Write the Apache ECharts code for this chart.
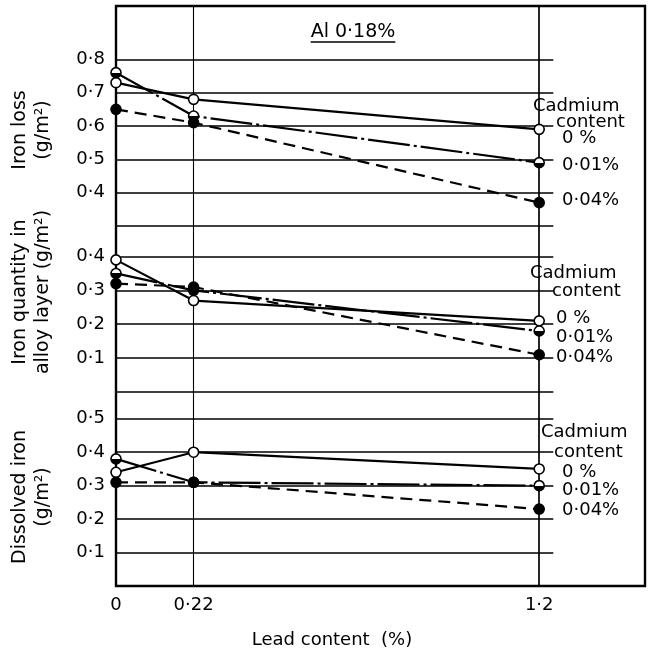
<!DOCTYPE html>
<html><head><meta charset="utf-8">
<script src="https://cdn.jsdelivr.net/npm/echarts@6/dist/echarts.min.js"></script>
<style>html,body{margin:0;padding:0;background:#fff}#c{width:650px;height:652px}</style>
</head><body><div id="c"></div>
<script>
// ---- data ----
const leadContent = [0, 0.22, 1.2];
const xTicks = [0, 0.22, 1.2];
const cadmiumLabels = ['0 %', '0·01%', '0·04%'];

const ironLoss0   = [0.73, 0.68, 0.59];
const ironLoss001 = [0.76, 0.63, 0.49];
const ironLoss004 = [0.65, 0.61, 0.37];

const alloy0   = [0.39, 0.27, 0.21];
const alloy001 = [0.35, 0.30, 0.18];
const alloy004 = [0.32, 0.31, 0.11];

const dissolved0   = [0.34, 0.40, 0.35];
const dissolved001 = [0.38, 0.31, 0.30];
const dissolved004 = [0.31, 0.31, 0.23];

const topTicks = [0.4, 0.5, 0.6, 0.7, 0.8];
const midTicks = [0.1, 0.2, 0.3, 0.4];
const botTicks = [0.1, 0.2, 0.3, 0.4, 0.5];
const topGridVals = [0.3, 0.4, 0.5, 0.6, 0.7, 0.8];
const midGridVals = [0, 0.1, 0.2, 0.3, 0.4];
const botGridVals = [0.1, 0.2, 0.3, 0.4, 0.5];

// ---- layout / style ----
const FONT = 'DejaVu Sans';
const gridEnd = 1.24;
const fmt = v => String(+(+v).toFixed(2)).replace('.', '·');

const chart = echarts.init(document.getElementById('c'), null, {renderer: 'canvas'});

const halfFill = new echarts.graphic.LinearGradient(0, 0, 0, 1, [
  {offset: 0, color: '#fff'}, {offset: 0.5, color: '#fff'},
  {offset: 0.5, color: '#000'}, {offset: 1, color: '#000'}
]);
const markerStyle = {
  open: {color: '#fff', borderColor: '#000', borderWidth: 1.6},
  half: {color: halfFill, borderColor: '#000', borderWidth: 1.6},
  filled: {color: '#000', borderColor: '#000', borderWidth: 1.6}
};
const lineTypes = {
  open: 'solid',
  half: [42, 4, 3, 4],
  filled: [12, 7]
};

function gridMarkLine(vals) {
  return {
    silent: true, symbol: ['none', 'none'], animation: false,
    label: {show: false},
    lineStyle: {color: '#000', width: 1.7, type: 'solid'},
    data: vals.map(v => [{coord: [0, v]}, {coord: [gridEnd, v]}])
  };
}

function mk(name, idx, values, kind, gridVals) {
  const s = {
    name: name, type: 'line', xAxisIndex: idx, yAxisIndex: idx,
    data: leadContent.map((x, i) => [x, values[i]]),
    symbol: 'circle', symbolSize: 10,
    itemStyle: markerStyle[kind],
    lineStyle: {color: '#000', width: 2.2, type: lineTypes[kind]},
    animation: false, z: 5
  };
  if (gridVals) s.markLine = gridMarkLine(gridVals);
  return s;
}

const panelY = (min, max, ticks) => ({
  type: 'value', min: min, max: max, interval: 0.1,
  axisLine: {show: false}, axisTick: {show: false}, splitLine: {show: false},
  axisLabel: {customValues: ticks, formatter: fmt, color: '#000',
    fontFamily: FONT, fontSize: 18, margin: 11}
});
const panelX = () => ({type: 'value', min: 0, max: 1.5, show: false});

const option = {
  backgroundColor: '#fff',
  animation: false,
  grid: [
    {left: 116, top: 6, width: 529, height: 580, show: true, borderColor: '#000', borderWidth: 2.4, backgroundColor: 'transparent'},
    {left: 116, top: 6, width: 529, height: 220},
    {left: 116, top: 226, width: 529, height: 166},
    {left: 116, top: 392, width: 529, height: 194}
  ],
  xAxis: [
    {type: 'value', gridIndex: 0, min: 0, max: 1.5,
     axisLine: {show: false}, axisTick: {show: false}, splitLine: {show: false},
     axisLabel: {customValues: xTicks, formatter: fmt, color: '#000', fontFamily: FONT, fontSize: 18, margin: 10}},
    Object.assign(panelX(), {gridIndex: 1}),
    Object.assign(panelX(), {gridIndex: 2}),
    Object.assign(panelX(), {gridIndex: 3})
  ],
  yAxis: [
    {type: 'value', gridIndex: 0, min: 0, max: 1, show: false},
    Object.assign(panelY(0.3, 0.96, topTicks), {gridIndex: 1}),
    Object.assign(panelY(0, 0.49, midTicks), {gridIndex: 2}),
    Object.assign(panelY(0, 0.58, botTicks), {gridIndex: 3})
  ],
  series: [
    {type: 'line', xAxisIndex: 0, yAxisIndex: 0, data: [], animation: false,
     markLine: {silent: true, symbol: ['none', 'none'], animation: false, label: {show: false},
       lineStyle: {color: '#000', width: 1.5, type: 'solid'},
       data: xTicks.filter(v => v > 0).map((v, i) => ({xAxis: v, lineStyle: {width: i === 0 ? 1.1 : 1.7}}))}},
    mk('Iron loss 0%', 1, ironLoss0, 'open', topGridVals),
    mk('Iron loss 0.01%', 1, ironLoss001, 'half'),
    mk('Iron loss 0.04%', 1, ironLoss004, 'filled'),
    mk('Alloy 0%', 2, alloy0, 'open', midGridVals),
    mk('Alloy 0.01%', 2, alloy001, 'half'),
    mk('Alloy 0.04%', 2, alloy004, 'filled'),
    mk('Dissolved 0%', 3, dissolved0, 'open', botGridVals),
    mk('Dissolved 0.01%', 3, dissolved001, 'half'),
    mk('Dissolved 0.04%', 3, dissolved004, 'filled')
  ]
};

// text annotations
function txt(text, x, y, extra) {
  return {type: 'text', x: x, y: y, silent: true,
    style: Object.assign({text: text, fill: '#000', font: '18px "' + FONT + '"',
      align: 'left', verticalAlign: 'middle', textAlign: 'left', textVerticalAlign: 'middle'}, extra || {})};
}
function vtxt(text, x, y) {
  return {type: 'text', x: x, y: y, rotation: Math.PI / 2, silent: true,
    style: {text: text, fill: '#000', font: '19px "' + FONT + '"', lineHeight: 23,
      align: 'center', verticalAlign: 'middle', textAlign: 'center', textVerticalAlign: 'middle'}};
}
const titleText = 'Al 0·18%';
const ctx = document.createElement('canvas').getContext('2d');
ctx.font = '19px "' + FONT + '"';
const tw = ctx.measureText(titleText).width;
const legendBlocks = [
  {x: [533, 556, 562], y: [106, 122, 138, 165, 200]},
  {x: [530, 552, 556], y: [273, 291, 318, 337, 357]},
  {x: [541, 554, 562], y: [432, 452, 472, 490, 510]}
];
const graphics = [];
legendBlocks.forEach(b => {
  graphics.push(txt('Cadmium', b.x[0], b.y[0]));
  graphics.push(txt('content', b.x[1], b.y[1]));
  cadmiumLabels.forEach((l, i) => graphics.push(txt(l, b.x[2], b.y[2 + i])));
});
graphics.push(txt(titleText, 353, 32, {align: 'center', textAlign: 'center', font: '19px "' + FONT + '"'}));
graphics.push({type: 'line', silent: true, shape: {x1: 353 - tw / 2, y1: 42, x2: 353 + tw / 2, y2: 42},
  style: {stroke: '#000', lineWidth: 1.6}});
graphics.push(txt('Lead content  (%)', 332, 640, {align: 'center', textAlign: 'center'}));
graphics.push(vtxt('Iron loss\n(g/m²)', 32, 130));
graphics.push(vtxt('Iron quantity in\nalloy layer (g/m²)', 32, 292));
graphics.push(vtxt('Dissolved iron\n(g/m²)', 32, 497));
option.graphic = graphics;

chart.setOption(option);
</script>
</body></html>
